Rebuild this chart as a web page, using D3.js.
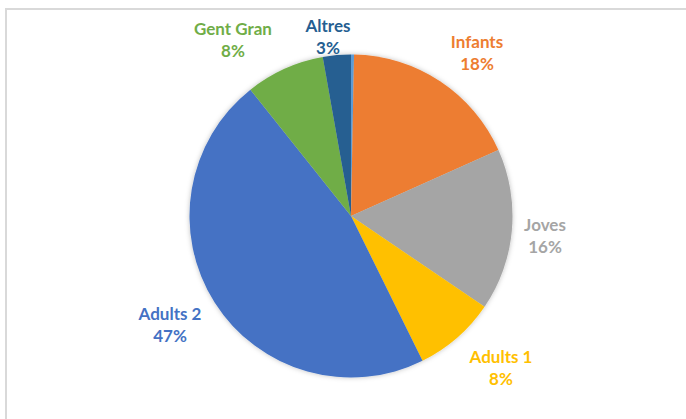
<!DOCTYPE html>
<html><head><meta charset="utf-8">
<script src="https://cdn.jsdelivr.net/npm/d3@7"></script>
<style>body{margin:0;background:#fff}svg{display:block}</style>
</head><body>
<svg id="c" width="686" height="419"></svg>
<script>
const categories = ["", "Infants", "Joves", "Adults 1", "Adults 2", "Gent Gran", "Altres"];
const values = [0.3, 18.0, 16.2, 8.2, 46.6, 7.9, 2.8];
const colors = ["#5B9BD5", "#ED7D31", "#A5A5A5", "#FFC000", "#4472C4", "#70AD47", "#255E91"];
const labelColors = ["#5B9BD5", "#ED7D31", "#A5A5A5", "#FFC000", "#4472C4", "#70AD47", "#255E91"];
// label anchor positions (chart-space layout offsets)
const labelPos = [null, [477, 41], [545, 224], [501, 356], [170, 313], [233, 28], [328, 25]];

const svg = d3.select("#c");
// chart frame
svg.append("path").attr("d", "M6,430 L6,9 L700,9").attr("fill", "none")
  .attr("stroke", "#d9d9d9").attr("stroke-width", 2);

const defs = svg.append("defs");
const f = defs.append("filter").attr("id", "sh").attr("x", "-10%").attr("y", "-10%").attr("width", "120%").attr("height", "120%");
f.append("feDropShadow").attr("dx", 0).attr("dy", 0).attr("stdDeviation", 2.5).attr("flood-color", "#000").attr("flood-opacity", 0.25);

const cx = 351, cy = 216, r = 161.5;
const data = categories.map((c, i) => ({ name: c, value: values[i], i }));
const pie = d3.pie().value(d => d.value).sort(null);
const arc = d3.arc().innerRadius(0).outerRadius(r);
const g = svg.append("g").attr("transform", `translate(${cx},${cy})`).attr("filter", "url(#sh)");
g.selectAll("path").data(pie(data)).join("path")
  .attr("d", arc).attr("fill", d => colors[d.data.i]);

const total = d3.sum(values);
const lab = svg.append("g").attr("font-family", "Lato, 'Open Sans', sans-serif")
  .attr("font-weight", "bold").attr("font-size", 17).attr("text-anchor", "middle");
data.forEach((d, i) => {
  if (!d.name) return;
  const [x, y] = labelPos[i];
  const t = lab.append("text").attr("fill", labelColors[i]).attr("x", x).attr("y", y).attr("dominant-baseline", "central");
  t.text(d.name);
  lab.append("text").attr("fill", labelColors[i]).attr("x", x).attr("y", y + 22).attr("dominant-baseline", "central")
    .text(Math.round(d.value / total * 100) + "%");
});
</script>
</body></html>
